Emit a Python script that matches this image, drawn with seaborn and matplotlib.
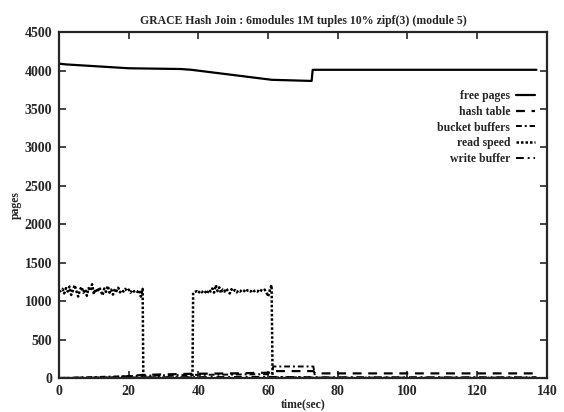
import numpy as np
import matplotlib
matplotlib.use("Agg")
import matplotlib.pyplot as plt
import seaborn as sns

# free pages
free_t = [0, 2, 20, 35, 38, 61, 72.5, 72.8, 137]
free_v = [4090, 4080, 4030, 4020, 4010, 3880, 3865, 4010, 4010]

# hash table
hash_t = [0, 15, 24, 38, 50, 61, 61.5, 73, 73.5, 137]
hash_v = [0, 5, 40, 55, 60, 70, 90, 90, 60, 60]

# bucket buffers
bucket_t = [0, 24, 38, 61, 61.5, 73, 73.5, 137]
bucket_v = [0, 30, 40, 50, 150, 150, 5, 5]

# write buffer
write_t = [0, 30, 61, 73, 137]
write_v = [0, 10, 15, 10, 10]

# read speed (noisy plateaus)
read_t1 = np.arange(0, 24.01, 0.5)
read_v1 = [1120, 1135, 1160, 1100, 1170, 1125, 1190, 1080, 1140, 1210,
           1130, 1060, 1150, 1185, 1110, 1155, 1070, 1170, 1135, 1220,
           1090, 1160, 1115, 1180, 1140, 1075, 1165, 1120, 1200, 1110,
           1150, 1085, 1160, 1130, 1175, 1115, 1145, 1125, 1160, 1130,
           1150, 1110, 1145, 1125, 1140, 1120, 1145, 1060, 1160]
read_t2 = np.arange(38.5, 61.01, 0.5)
read_v2 = [1110, 1120, 1130, 1105, 1135, 1115, 1140, 1120, 1095, 1150,
           1125, 1165, 1110, 1210, 1130, 1180, 1105, 1150, 1125, 1165,
           1130, 1100, 1155, 1125, 1145, 1115, 1140, 1125, 1150, 1140,
           1115, 1140, 1145, 1125, 1150, 1130, 1140, 1125, 1155, 1140,
           1130, 1150, 1115, 1060, 1145, 1210]
read_t = [*read_t1, 24.2, 38.3, *read_t2, 61.3, 73]
read_v = [*read_v1, 5, 5, *read_v2, 5, 5]

sns.set_style("ticks")
plt.rcParams["font.family"] = ["Liberation Serif", "DejaVu Serif"]
plt.rcParams["font.weight"] = "bold"

fig = plt.figure(figsize=(5.64, 4.12), dpi=100)
ax = fig.add_axes([0.1046, 0.0825, 0.865, 0.8395])

kw = dict(ax=ax, color="black", sort=False, estimator=None)
sns.lineplot(x=free_t, y=free_v, linestyle="-", linewidth=1.6, label="free pages", **kw)
sns.lineplot(x=hash_t, y=hash_v, linestyle=(0, (4, 3)), linewidth=1.6, label="hash table", **kw)
sns.lineplot(x=bucket_t, y=bucket_v, linestyle=(0, (3, 1.5, 1, 1.5)), linewidth=1.4, label="bucket buffers", **kw)
sns.lineplot(x=read_t, y=read_v, linestyle=(0, (1, 0.8)), linewidth=1.8, label="read speed", **kw)
sns.lineplot(x=write_t, y=write_v, linestyle=(0, (4, 2, 1, 2)), linewidth=1.4, label="write buffer", **kw)

ax.set_xlim(0, 140)
ax.set_ylim(0, 4500)
ax.set_xticks(range(0, 141, 20))
ax.set_yticks(range(0, 4501, 500))
ax.tick_params(direction="in", top=True, right=True, length=5, width=1.2,
               labelsize=10, pad=5)
for lab in ax.get_xticklabels() + ax.get_yticklabels():
    lab.set_fontweight("bold")
for sp in ax.spines.values():
    sp.set_visible(True)
    sp.set_linewidth(1.6)

ax.set_title("GRACE Hash Join : 6modules 1M tuples 10% zipf(3) (module 5)",
             fontsize=8.5, fontweight="bold", pad=6)
ax.set_xlabel("time(sec)", fontsize=8.5, fontweight="bold", labelpad=0)
ax.set_ylabel("pages", fontsize=8.5, fontweight="bold", labelpad=2)

ax.legend(loc="upper right", bbox_to_anchor=(0.985, 0.845), frameon=False,
          markerfirst=False, fontsize=8.5, handlelength=1.6, handletextpad=0.5,
          labelspacing=0.3, borderaxespad=0)

fig.savefig("out.png", dpi=100)
